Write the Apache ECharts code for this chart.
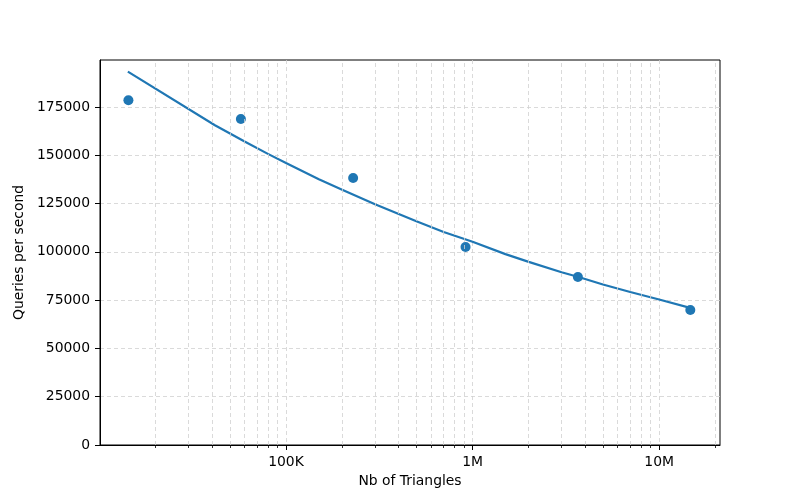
<!DOCTYPE html>
<html>
<head>
<meta charset="utf-8">
<script src="https://cdn.jsdelivr.net/npm/echarts@6/dist/echarts.min.js"></script>
<style>
  html, body { margin: 0; padding: 0; background: #fff; }
  #main { width: 800px; height: 500px; }
</style>
</head>
<body>
<div id="main"></div>
<script>
// measured points (triangles, queries/s)
var triangles = [14300, 57300, 229000, 917000, 3670000, 14700000];
var qps = [178500, 168800, 138200, 102500, 87000, 69900];

// fitted curve
var fitX = [14200, 41600, 60000, 80000, 100000, 150000, 200000, 300000, 500000, 700000,
            1000000, 1500000, 2000000, 3000000, 3700000, 5000000, 7000000, 10000000, 15000000];
var fitY = [193300, 165500, 157100, 150700, 146000, 137600, 132100, 124600, 115800, 110300,
            105200, 98800, 94800, 89400, 87000, 83100, 79200, 75300, 70700];

var yTicks = [0, 25000, 50000, 75000, 100000, 125000, 150000, 175000];
var majorTicks = [100000, 1000000, 10000000];
var majorLabels = { 100000: '100K', 1000000: '1M', 10000000: '10M' };

// minor log grid positions 2..9 x 10^k
var minorTicks = [];
for (var e = 4; e <= 7; e++) {
  for (var m = 2; m <= 9; m++) {
    var v = m * Math.pow(10, e);
    if (v > 10070 && v < 21200000) minorTicks.push(v);
  }
}

var blue = '#1f77b4';
var font = 'DejaVu Sans';
var gridLine = { type: [4, 3], color: '#d0d0d0', width: 0.8 };

var chart = echarts.init(document.getElementById('main'));
chart.setOption({
  animation: false,
  grid: {
    left: 100, right: 80, top: 60, bottom: 55,
    show: true, borderColor: '#000', borderWidth: 1, backgroundColor: 'transparent'
  },
  xAxis: [
    {
      type: 'log',
      logBase: 10,
      min: 10070,
      max: 21200000,
      name: 'Nb of Triangles',
      nameLocation: 'middle',
      nameGap: 28,
      nameTextStyle: { fontFamily: font, fontSize: 13.9, color: '#000' },
      axisLine: { lineStyle: { color: '#000', width: 1 } },
      axisTick: { length: 5, customValues: majorTicks, lineStyle: { color: '#000' } },
      axisLabel: {
        margin: 10, fontFamily: font, fontSize: 13.9, color: '#000',
        customValues: majorTicks,
        formatter: function (v) { return majorLabels[Math.round(v)] || ''; }
      },
      splitLine: { show: true, lineStyle: gridLine }
    },
    {
      // minor ticks only
      type: 'log',
      logBase: 10,
      min: 10070,
      max: 21200000,
      position: 'bottom',
      offset: 0,
      axisLine: { show: false },
      axisTick: { show: true, length: 3, customValues: minorTicks, lineStyle: { color: '#000', width: 0.8 } },
      axisLabel: { show: false },
      splitLine: { show: false }
    }
  ],
  yAxis: {
    type: 'value',
    min: 0,
    max: 199300,
    interval: 25000,
    name: 'Queries per second',
    nameLocation: 'middle',
    nameGap: 67,
    nameTextStyle: { fontFamily: font, fontSize: 13.9, color: '#000' },
    axisLine: { show: true, lineStyle: { color: '#000', width: 1 } },
    axisTick: { show: true, length: 5, customValues: yTicks, lineStyle: { color: '#000' } },
    axisLabel: {
      margin: 10, fontFamily: font, fontSize: 13.9, color: '#000',
      customValues: yTicks,
      formatter: function (v) { return String(v); }
    },
    splitLine: { show: true, lineStyle: gridLine }
  },
  series: [
    {
      type: 'line',
      z: 1,
      data: [],
      silent: true,
      markLine: {
        silent: true,
        symbol: ['none', 'none'],
        label: { show: false },
        lineStyle: gridLine,
        emphasis: { disabled: true },
        data: minorTicks.map(function (t) { return { xAxis: t }; })
      }
    },
    {
      type: 'line',
      z: 3,
      data: fitX.map(function (x, i) { return [x, fitY[i]]; }),
      showSymbol: false,
      smooth: false,
      lineStyle: { color: blue, width: 2.2 }
    },
    {
      type: 'scatter',
      z: 4,
      data: triangles.map(function (x, i) { return [x, qps[i]]; }),
      symbol: 'circle',
      symbolSize: 10,
      itemStyle: { color: blue, opacity: 1 }
    }
  ]
});
</script>
</body>
</html>
